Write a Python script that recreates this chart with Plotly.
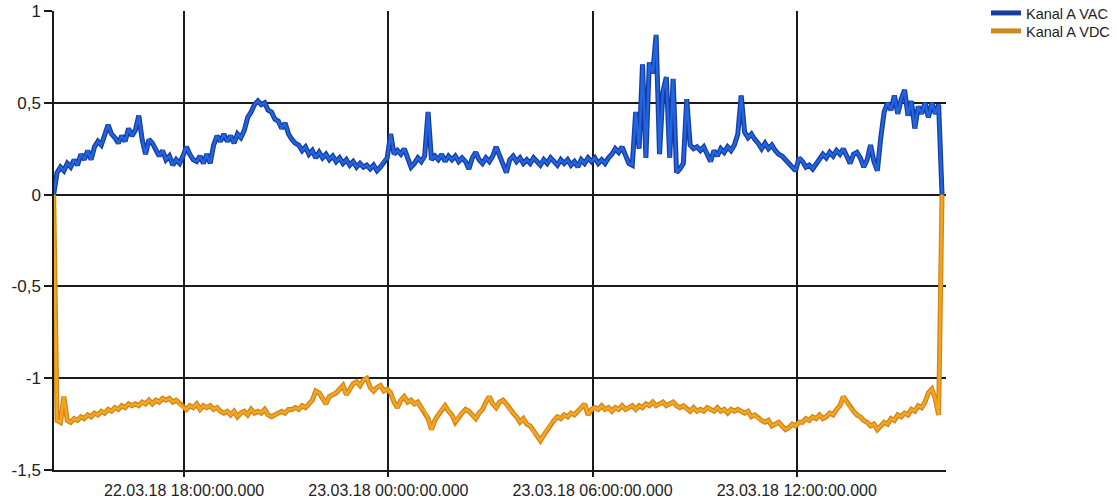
import pandas as pd
import plotly.graph_objects as go

# Sampling grid: one reading every 6 minutes from 22.03.18 14:10
start_time = "2018-03-22 14:10:00"
step_minutes = 6

# Kanal A VAC readings
vac = [
    0.0, 0.12, 0.15, 0.13, 0.17, 0.15, 0.19, 0.16, 0.22, 0.19,
    0.24, 0.19, 0.26, 0.29, 0.27, 0.32, 0.38, 0.33, 0.31, 0.28,
    0.32, 0.29, 0.36, 0.32, 0.35, 0.43, 0.30, 0.22, 0.30, 0.28,
    0.25, 0.21, 0.24, 0.19, 0.21, 0.16, 0.19, 0.17, 0.21, 0.26,
    0.22, 0.19, 0.18, 0.21, 0.17, 0.22, 0.17, 0.27, 0.32, 0.29,
    0.33, 0.29, 0.32, 0.28, 0.33, 0.31, 0.35, 0.42, 0.45, 0.49,
    0.51, 0.49, 0.50, 0.46, 0.45, 0.41, 0.40, 0.36, 0.39, 0.33,
    0.30, 0.28, 0.27, 0.24, 0.26, 0.22, 0.24, 0.20, 0.23, 0.20,
    0.22, 0.19, 0.21, 0.18, 0.20, 0.17, 0.19, 0.16, 0.18, 0.15,
    0.17, 0.15, 0.16, 0.14, 0.16, 0.13, 0.15, 0.18, 0.20, 0.33,
    0.22, 0.24, 0.22, 0.25, 0.20, 0.15, 0.17, 0.20, 0.18, 0.21,
    0.45, 0.19, 0.21, 0.19, 0.22, 0.18, 0.21, 0.19, 0.21, 0.18,
    0.20, 0.18, 0.14, 0.20, 0.23, 0.19, 0.17, 0.20, 0.18, 0.21,
    0.26, 0.21, 0.16, 0.12, 0.19, 0.21, 0.18, 0.20, 0.17, 0.19,
    0.17, 0.20, 0.18, 0.16, 0.19, 0.17, 0.20, 0.18, 0.16, 0.19,
    0.17, 0.19, 0.16, 0.18, 0.15, 0.19, 0.17, 0.20, 0.18, 0.20,
    0.17, 0.19, 0.17, 0.20, 0.22, 0.25, 0.23, 0.26, 0.21, 0.17,
    0.16, 0.45, 0.25, 0.71, 0.20, 0.72, 0.66, 0.87, 0.22, 0.56,
    0.64, 0.20, 0.63, 0.12, 0.14, 0.17, 0.52, 0.27, 0.25, 0.26,
    0.24, 0.26, 0.22, 0.18, 0.24, 0.21, 0.25, 0.23, 0.26, 0.24,
    0.27, 0.33, 0.54, 0.34, 0.31, 0.33, 0.30, 0.28, 0.25, 0.28,
    0.25, 0.27, 0.24, 0.22, 0.21, 0.19, 0.17, 0.15, 0.13, 0.20,
    0.18, 0.15, 0.16, 0.14, 0.17, 0.19, 0.22, 0.20, 0.23, 0.21,
    0.24, 0.22, 0.25, 0.21, 0.17, 0.22, 0.23, 0.20, 0.15, 0.19,
    0.27, 0.18, 0.13, 0.31, 0.45, 0.50, 0.46, 0.54, 0.44, 0.52,
    0.57, 0.43, 0.51, 0.36, 0.48, 0.44, 0.50, 0.42, 0.50, 0.44,
    0.49, 0.0,
]

# Kanal A VDC readings
vdc = [
    0.0, -1.23, -1.24, -1.10, -1.23, -1.24, -1.22, -1.23, -1.21, -1.22,
    -1.20, -1.21, -1.19, -1.20, -1.18, -1.19, -1.17, -1.18, -1.16, -1.17,
    -1.15, -1.16, -1.14, -1.15, -1.14, -1.15, -1.13, -1.14, -1.12, -1.14,
    -1.12, -1.13, -1.11, -1.12, -1.11, -1.13, -1.12, -1.14, -1.16, -1.17,
    -1.15, -1.16, -1.14, -1.17, -1.15, -1.16, -1.15, -1.17, -1.16, -1.18,
    -1.19, -1.18, -1.20, -1.18, -1.21, -1.19, -1.18, -1.20, -1.17, -1.19,
    -1.18, -1.19, -1.17, -1.20, -1.21, -1.20, -1.19, -1.18, -1.19, -1.17,
    -1.17, -1.16, -1.17, -1.15, -1.16, -1.14, -1.12, -1.07, -1.08, -1.11,
    -1.14, -1.10, -1.09, -1.08, -1.06, -1.04, -1.09, -1.06, -1.03, -1.02,
    -1.04, -1.01, -1.00, -1.05, -1.07, -1.05, -1.04, -1.07, -1.06, -1.08,
    -1.13, -1.16, -1.12, -1.10, -1.13, -1.12, -1.14, -1.13, -1.16, -1.18,
    -1.22, -1.28, -1.23, -1.20, -1.17, -1.15, -1.18, -1.20, -1.24, -1.21,
    -1.19, -1.17, -1.18, -1.20, -1.22, -1.19, -1.17, -1.13, -1.10, -1.14,
    -1.16, -1.13, -1.12, -1.14, -1.17, -1.19, -1.21, -1.24, -1.22, -1.25,
    -1.26, -1.29, -1.31, -1.34, -1.31, -1.28, -1.25, -1.23, -1.21, -1.22,
    -1.20, -1.21, -1.19, -1.20, -1.18, -1.16, -1.14, -1.20, -1.17, -1.16,
    -1.17, -1.15, -1.17, -1.16, -1.18, -1.16, -1.17, -1.15, -1.17, -1.16,
    -1.15, -1.17, -1.15, -1.16, -1.14, -1.15, -1.13, -1.15, -1.14, -1.13,
    -1.15, -1.14, -1.13, -1.15, -1.16, -1.15, -1.17, -1.18, -1.16, -1.18,
    -1.17, -1.18, -1.16, -1.17, -1.18, -1.16, -1.18, -1.17, -1.19, -1.17,
    -1.18, -1.17, -1.18, -1.19, -1.18, -1.21, -1.20, -1.22, -1.23, -1.24,
    -1.23, -1.26, -1.25, -1.24, -1.26, -1.28, -1.27, -1.25, -1.26, -1.24,
    -1.24, -1.22, -1.23, -1.21, -1.22, -1.20, -1.22, -1.21, -1.19, -1.20,
    -1.17, -1.15, -1.10, -1.13, -1.16, -1.18, -1.20, -1.21, -1.23, -1.24,
    -1.26, -1.25, -1.28, -1.26, -1.24, -1.25, -1.22, -1.23, -1.20, -1.21,
    -1.19, -1.20, -1.17, -1.18, -1.15, -1.16, -1.13, -1.08, -1.06, -1.11,
    -1.20, 0.0,
]

# Axis ticks
y_tickvals = [-1.5, -1, -0.5, 0, 0.5, 1]
y_ticktext = ["-1,5", "-1", "-0,5", "0", "0,5", "1"]
x_tickvals = ["2018-03-22 18:00", "2018-03-23 00:00", "2018-03-23 06:00", "2018-03-23 12:00"]
x_ticktext = [
    "22.03.18 18:00:00.000",
    "23.03.18 00:00:00.000",
    "23.03.18 06:00:00.000",
    "23.03.18 12:00:00.000",
]
x_range = ["2018-03-22 14:10:36", "2018-03-23 16:23:00"]

times = pd.date_range(start_time, periods=len(vac), freq=f"{step_minutes}min")

FONT = "Liberation Sans, Arial, sans-serif"
GRID = "#1a1a1a"

# Each series: a darker, wider stroke underneath a brighter core stroke;
# each series gets its own legend box
series = [
    ("Kanal A VAC", vac, "rgb(25,60,160)", "rgb(32,102,226)", "legend"),
    ("Kanal A VDC", vdc, "rgb(205,135,30)", "rgb(247,166,28)", "legend2"),
]

fig = go.Figure()
for name, values, dark, bright, leg in series:
    fig.add_trace(go.Scatter(
        x=times, y=values, mode="lines", name=name, legendgroup=name,
        legend=leg, line=dict(color=dark, width=5),
    ))
for name, values, dark, bright, leg in series:
    fig.add_trace(go.Scatter(
        x=times, y=values, mode="lines", name=name, legendgroup=name,
        legend=leg, showlegend=False, line=dict(color=bright, width=2.4),
    ))

W, H = 1117, 504
L, R, T, B = 54, 10, 0, 34
plot_right = 946
plot_top = 11
paper_w = W - L - R
paper_h = H - T - B

legend_style = dict(
    x=(986 - L) / paper_w, xanchor="left", yanchor="top",
    font=dict(family=FONT, size=14.5, color="#222"),
    bgcolor="rgba(0,0,0,0)", itemwidth=30,
)

fig.update_layout(
    width=W, height=H,
    margin=dict(l=L, r=R, t=T, b=B, autoexpand=False),
    paper_bgcolor="white", plot_bgcolor="white",
    font=dict(family=FONT, size=16, color="#222"),
    showlegend=True,
    legend=dict(y=1 + 3 / paper_h, **legend_style),
    legend2=dict(y=1 - 15 / paper_h, **legend_style),
)
fig.update_xaxes(
    type="date", range=x_range, domain=[0, (plot_right - L) / paper_w],
    tickmode="array", tickvals=x_tickvals, ticktext=x_ticktext,
    showgrid=True, gridcolor=GRID, gridwidth=1.5,
    showline=True, linecolor=GRID, linewidth=1.5,
    ticks="outside", ticklen=5, tickcolor=GRID, tickwidth=1.5,
    zeroline=False,
)
fig.update_yaxes(
    range=[-1.5, 1], domain=[0, (H - B - plot_top) / paper_h],
    tickmode="array", tickvals=y_tickvals, ticktext=y_ticktext,
    tickfont=dict(size=17),
    showgrid=True, gridcolor=GRID, gridwidth=1.5,
    showline=True, linecolor=GRID, linewidth=1.5,
    ticks="outside", ticklen=8, tickcolor=GRID, tickwidth=1.5,
    zeroline=False,
)

fig.write_html("out.html")
